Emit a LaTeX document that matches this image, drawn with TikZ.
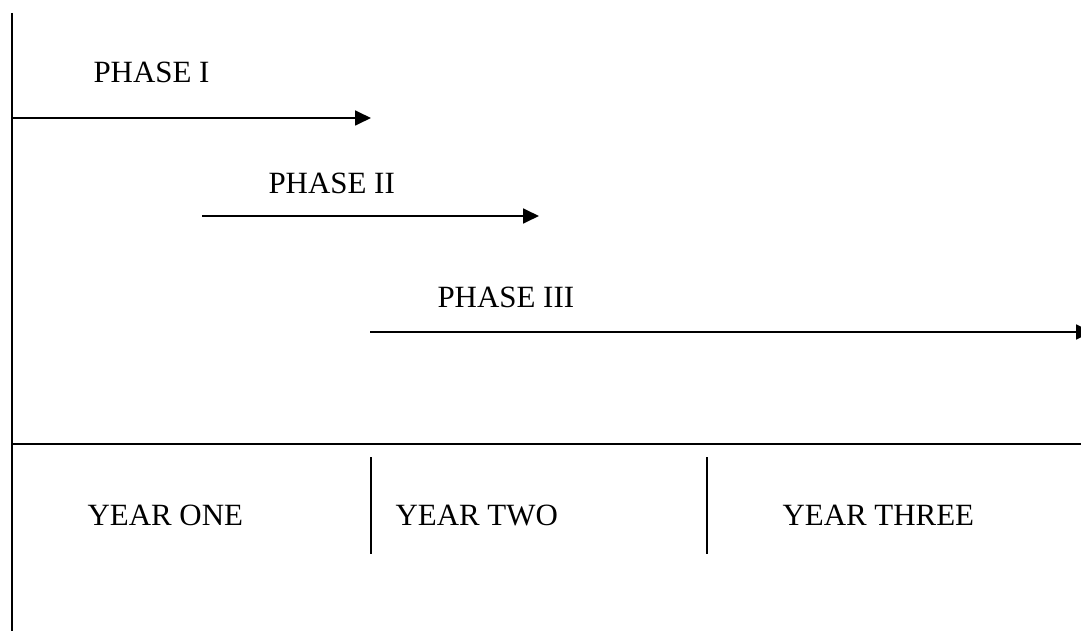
\documentclass[tikz,border=0pt]{standalone}
\usepackage{fontspec}
\setmainfont{Liberation Serif}
\usepackage{tikz}
\usetikzlibrary{arrows.meta,positioning}

\begin{document}
\begin{tikzpicture}[
    x=0.375pt, y=-0.375pt,
    label/.style={anchor=base west, inner sep=0pt, font=\fontsize{11.6}{14}\selectfont},
    axis/.style={line width=0.75pt, draw=black},
    divider/.style={line width=0.75pt, draw=black},
    arrow/.style={-{Triangle[length=6pt, width=5.6pt]}, line width=0.75pt, draw=black}
]
\useasboundingbox (0,0) rectangle (1081,631);

% Coordinates
\coordinate (axistop) at (12,13);
\coordinate (axisbot) at (12,631);
\coordinate (baseleft) at (12,444);
\coordinate (baseright) at (1081,444);
\coordinate (p1start) at (12,118);
\coordinate (p1end) at (371,118);
\coordinate (p2start) at (202,216);
\coordinate (p2end) at (539,216);
\coordinate (p3start) at (370,332);
\coordinate (p3end) at (1092,332);
\coordinate (div1top) at (371,457);
\coordinate (div1bot) at (371,554);
\coordinate (div2top) at (707,457);
\coordinate (div2bot) at (707,554);

% Nodes
\node [label] (phaseone) at (93,83) {PHASE I};
\node [label] (phasetwo) at (268,193) {PHASE II};
\node [label] (phasethree) at (437,307) {PHASE III};
\node [label] (yearone) at (87,525) {YEAR ONE};
\node [label] (yeartwo) at (395,525) {YEAR TWO};
\node [label] (yearthree) at (782,525) {YEAR THREE};

% Lines
\draw [axis] (axistop) -- (axisbot);
\draw [axis] (baseleft) -- (baseright);
\draw [divider] (div1top) -- (div1bot);
\draw [divider] (div2top) -- (div2bot);

% Arrows
\draw [arrow] (p1start) -- (p1end);
\draw [arrow] (p2start) -- (p2end);
\draw [arrow] (p3start) -- (p3end);

\end{tikzpicture}
\end{document}
